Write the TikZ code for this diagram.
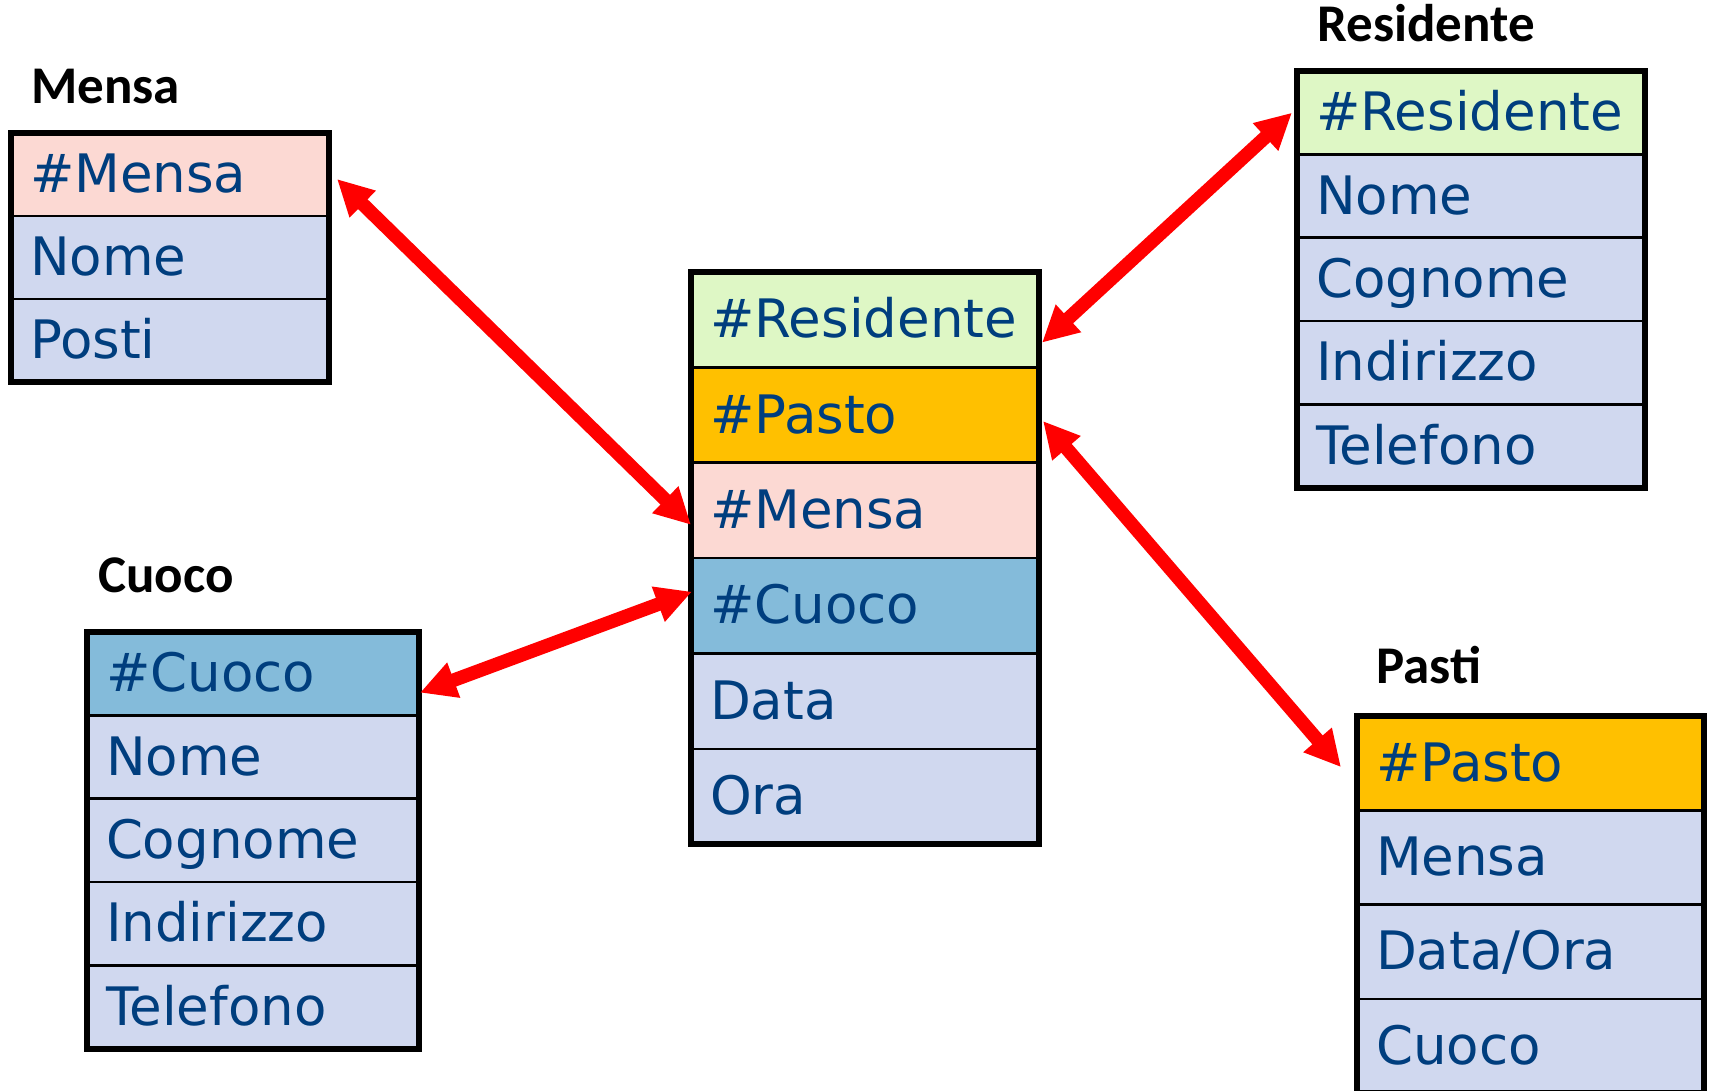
\documentclass[tikz,border=0pt]{standalone}
\usepackage{fontspec}
\setmainfont{DejaVu Sans}
\newfontfamily\titlefont{Carlito}
\usetikzlibrary{arrows.meta,calc}

\definecolor{keypink}{RGB}{252,217,211}
\definecolor{fieldblue}{RGB}{208,216,239}
\definecolor{keygreen}{RGB}{222,247,197}
\definecolor{keyorange}{RGB}{255,192,0}
\definecolor{keycyan}{RGB}{132,187,218}
\definecolor{textblue}{RGB}{0,62,126}
\definecolor{linkred}{RGB}{255,0,0}

\begin{document}
\begin{tikzpicture}[x=0.5pt,y=-0.5pt,
  tabrow/.style={draw=black, line width=1.2pt, fill=fieldblue, anchor=north west,
    outer sep=0pt, inner xsep=9.5pt, inner ysep=0pt, align=left, text=textblue,
    font=\fontsize{26.5pt}{31pt}\selectfont, text height=23pt, text depth=5pt},
  mensarow/.style={tabrow, minimum width=159pt, text width=140pt, minimum height=41.5pt},
  centrow/.style={tabrow, minimum width=174pt, text width=155pt, minimum height=47.67pt},
  resrow/.style={tabrow, minimum width=174pt, text width=155pt, minimum height=41.67pt},
  cuocorow/.style={tabrow, minimum width=166pt, text width=147pt, minimum height=41.67pt},
  pastirow/.style={tabrow, minimum width=173.5pt, text width=154.5pt, minimum height=47.17pt},
  frame/.style={draw=black, line width=3pt},
  tabtitle/.style={anchor=base west, inner sep=0pt, font=\titlefont\bfseries\fontsize{26.5pt}{31pt}\selectfont},
  link/.style={draw=linkred, line width=6.8pt,
    arrows={Triangle[length=18pt,width=17.5pt]-Triangle[length=18pt,width=17.5pt]}}
]
\useasboundingbox (0,0) rectangle (1712,1091);
\clip (0,0) rectangle (1712,1091);
\fill[white] (0,0) rectangle (1712,1091);

% Mensa
\node[tabtitle] (tmensa) at (31,104) {Mensa};
\node[mensarow, fill=keypink] (m1) at (11,133) {\#Mensa};
\node[mensarow] (m2) at (m1.south west) {Nome};
\node[mensarow] (m3) at (m2.south west) {Posti};
\draw[frame] (m1.north west) rectangle (m3.south east);

% Central table
\node[centrow, fill=keygreen] (c1) at (691,272) {\#Residente};
\node[centrow, fill=keyorange] (c2) at (c1.south west) {\#Pasto};
\node[centrow, fill=keypink] (c3) at (c2.south west) {\#Mensa};
\node[centrow, fill=keycyan] (c4) at (c3.south west) {\#Cuoco};
\node[centrow] (c5) at (c4.south west) {Data};
\node[centrow] (c6) at (c5.south west) {Ora};
\draw[frame] (c1.north west) rectangle (c6.south east);

% Residente
\node[tabtitle] (tres) at (1317,42) {Residente};
\node[resrow, fill=keygreen] (r1) at (1297,71) {\#Residente};
\node[resrow] (r2) at (r1.south west) {Nome};
\node[resrow] (r3) at (r2.south west) {Cognome};
\node[resrow] (r4) at (r3.south west) {Indirizzo};
\node[resrow] (r5) at (r4.south west) {Telefono};
\draw[frame] (r1.north west) rectangle (r5.south east);

% Cuoco
\node[tabtitle] (tcuoco) at (98,592) {Cuoco};
\node[cuocorow, fill=keycyan] (k1) at (87,632) {\#Cuoco};
\node[cuocorow] (k2) at (k1.south west) {Nome};
\node[cuocorow] (k3) at (k2.south west) {Cognome};
\node[cuocorow] (k4) at (k3.south west) {Indirizzo};
\node[cuocorow] (k5) at (k4.south west) {Telefono};
\draw[frame] (k1.north west) rectangle (k5.south east);

% Pasti
\node[tabtitle] (tpasti) at (1376,683) {Pasti};
\node[pastirow, fill=keyorange] (p1) at (1357,716) {\#Pasto};
\node[pastirow] (p2) at (p1.south west) {Mensa};
\node[pastirow] (p3) at (p2.south west) {Data/Ora};
\node[pastirow] (p4) at (p3.south west) {Cuoco};
\draw[frame] (p1.north west) rectangle (p4.south east);

% Links between keys
\draw[link] ([shift={(8,4.5)}]m1.east) -- ([shift={(0,14.5)}]c3.west);
\draw[link] ([shift={(1,19)}]k1.east) -- ([shift={(1,-14)}]c4.west);
\draw[link] ([shift={(3,23)}]c1.east) -- ([shift={(-5,0)}]r1.west);
\draw[link] ([shift={(4,6)}]c2.east) -- ([shift={(-16,4)}]p1.west);
\end{tikzpicture}
\end{document}
